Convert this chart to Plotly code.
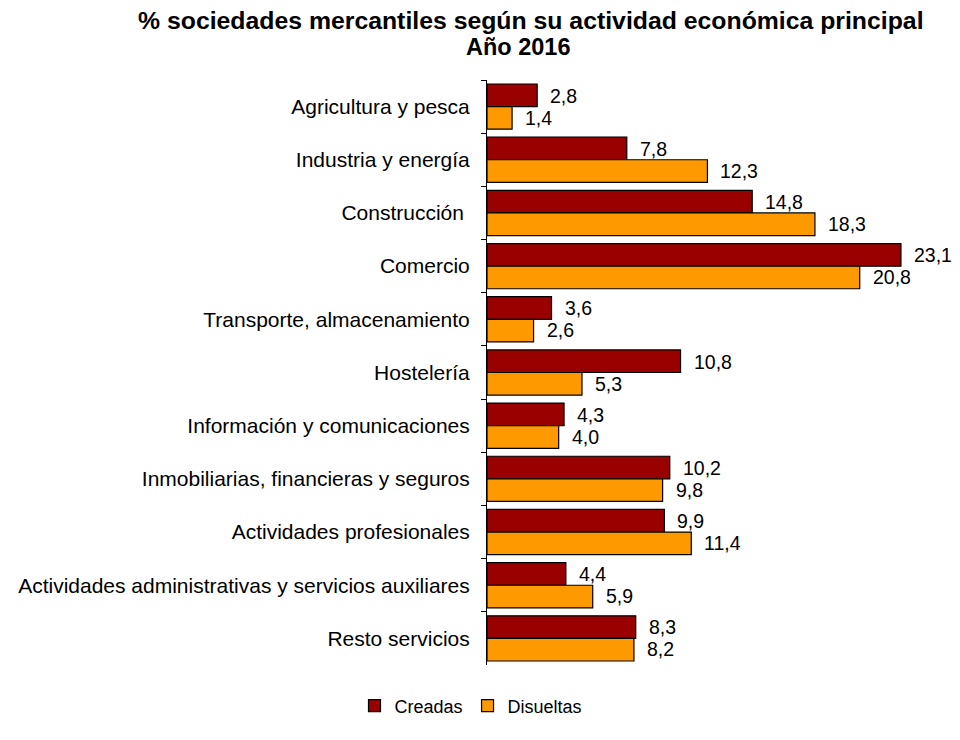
import plotly.graph_objects as go

categories = [
    "Agricultura y pesca",
    "Industria y energía",
    "Construcción ",
    "Comercio",
    "Transporte, almacenamiento",
    "Hostelería",
    "Información y comunicaciones",
    "Inmobiliarias, financieras y seguros",
    "Actividades profesionales",
    "Actividades administrativas y servicios auxiliares",
    "Resto servicios",
]
creadas = [2.8, 7.8, 14.8, 23.1, 3.6, 10.8, 4.3, 10.2, 9.9, 4.4, 8.3]
disueltas = [1.4, 12.3, 18.3, 20.8, 2.6, 5.3, 4.0, 9.8, 11.4, 5.9, 8.2]
title_lines = ["% sociedades mercantiles según su actividad económica principal", "Año 2016"]

def fmt(v):
    return f"{v:.1f}".replace(".", ",")

FONT = "Liberation Sans, Arial, sans-serif"
OX, OY = 8, 8  # page body margin compensation
W, H = 960 - 2 * OX, 740 - 2 * OY  # avoid scrollbars

fig = go.Figure()
fig.add_trace(go.Bar(
    name="Creadas", y=categories, x=creadas, orientation="h",
    marker=dict(color="#990000", line=dict(color="black", width=1.2)),
))
fig.add_trace(go.Bar(
    name="Disueltas", y=categories, x=disueltas, orientation="h",
    marker=dict(color="#FF9900", line=dict(color="black", width=1.2)),
))

annotations = []
for c, v in zip(categories, creadas):
    annotations.append(dict(x=v, y=c, xref="x", yref="y", text=fmt(v), showarrow=False,
                            xanchor="left", yanchor="middle", xshift=11, yshift=11,
                            font=dict(size=19.5, color="black", family=FONT)))
for c, v in zip(categories, disueltas):
    annotations.append(dict(x=v, y=c, xref="x", yref="y", text=fmt(v), showarrow=False,
                            xanchor="left", yanchor="middle", xshift=11, yshift=-11,
                            font=dict(size=19.5, color="black", family=FONT)))

# title lines (screen centres)
pl, pt = 487 - OX, 80 - OY
pw, ph = 448, 585
for txt, cx, cy, fs in zip(title_lines, [531, 518], [21, 47], [24.8, 23.5]):
    annotations.append(dict(text=f"<b>{txt}</b>", xref="paper", yref="paper", showarrow=False,
                            x=((cx - OX) - pl) / pw, y=1 + (pt - (cy - OY)) / ph,
                            xanchor="center", yanchor="middle",
                            font=dict(size=fs, family=FONT, color="black")))

fig.update_layout(
    width=W, height=H,
    paper_bgcolor="white", plot_bgcolor="white",
    font=dict(family=FONT, size=21, color="black"),
    barmode="group", bargap=0.15, bargroupgap=0.0,
    margin=dict(l=pl, r=W - (pl + pw), t=pt, b=H - (pt + ph), autoexpand=False),
    xaxis=dict(range=[0, 25], visible=False, showgrid=False, zeroline=False),
    yaxis=dict(
        autorange="reversed", showline=True, linecolor="black", linewidth=1,
        ticks="outside", tickson="boundaries", ticklen=5, tickcolor="black",
        ticklabelstandoff=12, showgrid=False, automargin=False,
        tickfont=dict(size=21, family=FONT, color="black"),
    ),
    legend=dict(
        orientation="h", xref="container", yref="container",
        x=(471 - OX) / W, xanchor="center", y=1 - (706 - OY) / H, yanchor="middle",
        font=dict(size=18, family=FONT), itemwidth=30, traceorder="normal",
    ),
    annotations=annotations,
    showlegend=True,
)

fig.write_html("out.html")
